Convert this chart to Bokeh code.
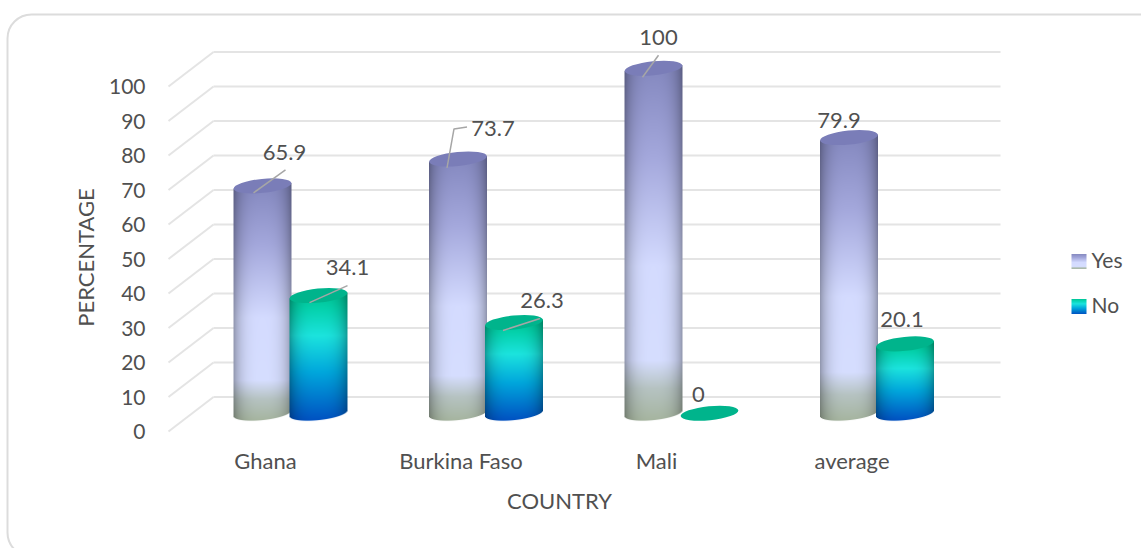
import numpy as np
from bokeh.core.properties import value
from bokeh.embed import file_html
from bokeh.models import BoxAnnotation, ColumnDataSource, FixedTicker, Label, LinearAxis, Range1d
from bokeh.plotting import figure
from bokeh.resources import INLINE

# Chart data
categories = ["Ghana", "Burkina Faso", "Mali", "average"]
yes_values = [65.9, 73.7, 100, 79.9]
no_values = [34.1, 26.3, 0, 20.1]
yes_labels = ["65.9", "73.7", "100", "79.9"]
no_labels = ["34.1", "26.3", "0", "20.1"]
y_ticks = list(range(0, 101, 10))

# Canvas layout (pixels)
WIDTH, HEIGHT = 1141, 548
FLOOR_LEFT, FLOOR_BOTTOM = 168, 431
PX_PER_UNIT = 3.45          # pixels per percentage point
PX_PER_CATEGORY = 195.5     # pixels between categories
FIRST_CATEGORY_PX = 265

FONT = "Lato"
TEXT = "#505050"
GRID = "#e4e4e4"

DEPTH_X = 45                # oblique depth of the floor, pixels
DEPTH_Y = 10                # same depth expressed in percentage points
WALL_RIGHT = 1000
BASE = 5.3                  # cylinders stand this far up the oblique floor
BAR_WIDTH = 58
CAP_HEIGHT = 14
TILT = 0.10                 # cap tilt, radians
YES_OFFSET, NO_OFFSET = -3, 53


def xd(px):
    return (px - FIRST_CATEGORY_PX) / PX_PER_CATEGORY


def yd(px):
    return (FLOOR_BOTTOM - px) / PX_PER_UNIT


def hex_rgb(c):
    return [int(c[i:i + 2], 16) for i in (1, 3, 5)]


YES_RAMP = [(0.0, "#8589c0"), (0.25, "#a4a8dc"), (0.56, "#d4dbff"), (0.83, "#d6deff"),
            (0.91, "#b6c3c2"), (1.0, "#a6b5a0")]
NO_RAMP = [(0.0, "#00c496"), (0.1, "#05d2ac"), (0.32, "#1ce4de"), (0.62, "#00a6dc"), (1.0, "#0052c2")]
YES_CAP, NO_CAP = "#7a7db8", "#00b48c"


def ramp_colours(ramp, t):
    stops = [s for s, _ in ramp]
    cols = np.array([hex_rgb(c) for _, c in ramp], dtype=float)
    return np.stack([np.interp(t, stops, cols[:, k]) for k in range(3)], axis=-1)


def cylinder_image(val, ramp):
    """RGBA raster of a shaded cylinder body, one texel per screen pixel."""
    a, b = BAR_WIDTH / 2, CAP_HEIGHT / 2
    body = val * PX_PER_UNIT
    w, h = BAR_WIDTH + 2, int(np.ceil(body + 2 * b + 2 * a * np.tan(TILT))) + 2
    px = np.arange(w) + 0.5 - w / 2
    py = np.arange(h) + 0.5 - h + (b + a * np.tan(TILT) + 1)  # 0 at the base centre, down positive
    X, Y = np.meshgrid(px, py)
    u = np.clip(X / a, -1, 1)
    slant = -np.tan(TILT) * X
    lower = slant + b * np.sqrt(1 - u ** 2)
    upper = slant - body
    alpha = np.clip(a + 0.5 - np.abs(X), 0, 1) * np.clip(lower + 0.5 - Y, 0, 1) * np.clip(Y - upper + 0.5, 0, 1)
    t = np.clip((Y + body) / (body + b), 0, 1)
    rgb = ramp_colours(ramp, t)
    shade = 0.66 + 0.34 * np.clip(1 - np.abs(u) ** 3, 0, 1) ** 0.8
    rgb = rgb * shade[..., None]
    img = np.zeros((h, w, 4), dtype=np.uint8)
    img[..., :3] = rgb.astype(np.uint8)
    img[..., 3] = (alpha * 255).astype(np.uint8)
    img = img[::-1]  # first row is the bottom row
    view = np.frombuffer(img.tobytes(), dtype=np.uint32).reshape(h, w).copy()
    return view, w, h, b + a * np.tan(TILT) + 1


def swatch_image(ramp, size=15):
    t = (np.arange(size) + 0.5) / size
    rgb = ramp_colours(ramp, t)[::-1]
    img = np.zeros((size, size, 4), dtype=np.uint8)
    img[..., :3] = rgb[:, None, :].astype(np.uint8)
    img[..., 3] = 255
    return np.frombuffer(img.tobytes(), dtype=np.uint32).reshape(size, size).copy()


p = figure(
    width=WIDTH, height=HEIGHT, output_backend="svg", toolbar_location=None,
    x_range=Range1d(xd(0), xd(WIDTH)),
    y_range=Range1d(yd(HEIGHT), yd(0)),
    x_axis_type=None, y_axis_type=None,
    min_border=0,
    outline_line_color=None, background_fill_color="white", border_fill_color="white",
)
p.grid.visible = False

# Rounded card behind the chart; its right and bottom edges run off the canvas
p.add_layout(BoxAnnotation(
    left=xd(7), right=xd(1165), top=yd(14), bottom=yd(556),
    fill_alpha=0, line_color="#dcdcdc", line_alpha=1, line_width=2,
    border_radius=24, level="underlay",
))

# Axes pinned to the front edge of the floor
yaxis = LinearAxis(
    fixed_location=xd(FLOOR_LEFT),
    ticker=FixedTicker(ticks=y_ticks), major_tick_line_color=None, minor_tick_line_color=None,
    axis_line_color=None, major_label_standoff=17, major_label_text_font=FONT,
    major_label_text_font_size="21px", major_label_text_color=TEXT,
)
p.add_layout(yaxis, "left")
xaxis = LinearAxis(
    fixed_location=0,
    ticker=FixedTicker(ticks=list(range(len(categories)))),
    major_label_overrides={i: c for i, c in enumerate(categories)},
    major_tick_line_color=None, minor_tick_line_color=None, axis_line_color=None,
    major_label_standoff=9, major_label_text_font=FONT,
    major_label_text_font_size="22px", major_label_text_color=TEXT,
)
p.add_layout(xaxis, "below")

p.add_layout(Label(x=xd(85), y=yd(257), text="PERCENTAGE", angle=90, angle_units="deg",
                   text_align="center", text_baseline="middle", text_font=FONT,
                   text_font_size="22px", text_color=TEXT))
p.add_layout(Label(x=xd(559), y=yd(500), text="COUNTRY", text_align="center", text_baseline="middle",
                   text_font=FONT, text_font_size="22px", text_color=TEXT))

# Back-wall gridlines and the oblique floor strokes leading to them
p.segment(x0=[xd(FLOOR_LEFT + DEPTH_X)] * len(y_ticks), x1=[xd(WALL_RIGHT)] * len(y_ticks),
          y0=[t + DEPTH_Y for t in y_ticks], y1=[t + DEPTH_Y for t in y_ticks],
          line_color=GRID, line_width=2)
p.segment(x0=[xd(FLOOR_LEFT)] * len(y_ticks), x1=[xd(FLOOR_LEFT + DEPTH_X)] * len(y_ticks),
          y0=y_ticks, y1=[t + DEPTH_Y for t in y_ticks], line_color=GRID, line_width=2)


def draw_series(values, offset, ramp, cap):
    for i, val in enumerate(values):
        cx = i + offset / PX_PER_CATEGORY
        if val > 0:
            img, w, h, below = cylinder_image(val, ramp)
            p.image_rgba(image=[img], x=[cx - w / 2 / PX_PER_CATEGORY],
                         y=[BASE - below / PX_PER_UNIT],
                         dw=[w / PX_PER_CATEGORY], dh=[h / PX_PER_UNIT])
    p.ellipse(x=[i + offset / PX_PER_CATEGORY for i in range(len(values))],
              y=[BASE + v for v in values],
              width=BAR_WIDTH / PX_PER_CATEGORY, height=CAP_HEIGHT / PX_PER_UNIT,
              angle=TILT, fill_color=cap, line_color=None)


draw_series(yes_values, YES_OFFSET, YES_RAMP, YES_CAP)
draw_series(no_values, NO_OFFSET, NO_RAMP, NO_CAP)

# Value labels, placed relative to each cylinder's cap (pixel offsets)
yes_label_offset = [(22, -33), (35, -30), (5, -31), (-10, -17)]
no_label_offset = [(29, -28), (28, -22), (-11, -19), (-3, -24)]
yes_leaders = [[(-9, 7), (23, -16)], [(-11, 9), (-4, -30), (9, -32)], [(-11, 9), (5, -13)], None]
no_leaders = [[(-9, 7), (29, -10)], [(-11, 8), (26, -4)], None, None]


def draw_labels(values, labels, offset, label_offset, leaders):
    lx, ly = [], []
    for i, val in enumerate(values):
        cx = i + offset / PX_PER_CATEGORY
        cy = BASE + val
        lx.append(cx + label_offset[i][0] / PX_PER_CATEGORY)
        ly.append(cy - label_offset[i][1] / PX_PER_UNIT)
        if leaders[i]:
            p.line([cx + dx / PX_PER_CATEGORY for dx, _ in leaders[i]],
                   [cy - dy / PX_PER_UNIT for _, dy in leaders[i]],
                   line_color="#a6a6a6", line_width=1.5)
    src = ColumnDataSource(dict(x=lx, y=ly, text=labels))
    p.text(x="x", y="y", text="text", source=src, text_align="center", text_baseline="middle",
           text_font=value(FONT), text_font_size="22px", text_color=TEXT)


draw_labels(yes_values, yes_labels, YES_OFFSET, yes_label_offset, yes_leaders)
draw_labels(no_values, no_labels, NO_OFFSET, no_label_offset, no_leaders)

# Legend with gradient swatches
legend_rows = [("Yes", YES_RAMP, 261), ("No", NO_RAMP, 306)]
for name, ramp, row_px in legend_rows:
    p.image_rgba(image=[swatch_image(ramp)], x=[xd(1071)], y=[yd(row_px + 7.5)],
                 dw=[15 / PX_PER_CATEGORY], dh=[15 / PX_PER_UNIT])
    p.text(x=[xd(1091)], y=[yd(row_px - 2)], text=[name], text_align="left", text_baseline="middle",
           text_font=value(FONT), text_font_size="21px", text_color=TEXT)

open("out.html", "w").write(file_html(p, INLINE))
